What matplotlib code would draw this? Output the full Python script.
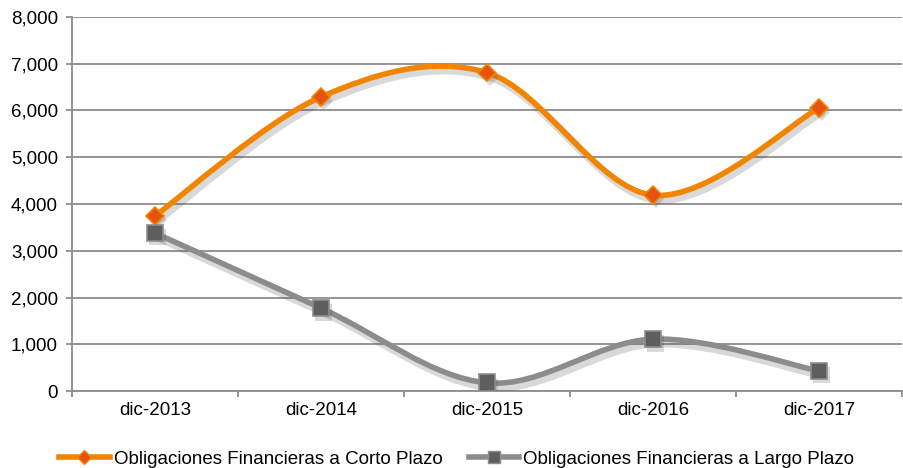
import numpy as np
import matplotlib.pyplot as plt
import matplotlib.patheffects as pe
from matplotlib.path import Path
from matplotlib.patches import PathPatch
from matplotlib.lines import Line2D
from matplotlib.ticker import FuncFormatter

plt.rcParams['font.family'] = ['Liberation Sans', 'DejaVu Sans']

categorias = ['dic-2013', 'dic-2014', 'dic-2015', 'dic-2016', 'dic-2017']
corto_plazo = [3745, 6290, 6810, 4190, 6050]
largo_plazo = [3380, 1775, 175, 1110, 430]

naranja = '#F28500'
naranja_marca = '#E8520F'
gris = '#8C8C8C'
gris_marca = '#5E5E5E'


def curva_suave(xs, ys):
    # curva tipo Excel (Catmull-Rom -> Bezier cúbica)
    pts = np.column_stack([xs, ys]).astype(float)
    n = len(pts)
    verts = [pts[0]]
    codes = [Path.MOVETO]
    for i in range(n - 1):
        p0 = pts[max(i - 1, 0)]
        p1 = pts[i]
        p2 = pts[i + 1]
        p3 = pts[min(i + 2, n - 1)]
        c1 = p1 + (p2 - p0) / 6.0
        c2 = p2 - (p3 - p1) / 6.0
        verts += [c1, c2, p2]
        codes += [Path.CURVE4] * 3
    return Path(verts, codes)


fig = plt.figure(figsize=(9.04, 4.68), dpi=100)
ax = fig.add_axes([0.0796, 0.1645, 0.918, 0.7992])

x = np.arange(len(categorias))

for ys, col, mk, mcol, ms in [(corto_plazo, naranja, 'D', naranja_marca, 9),
                              (largo_plazo, gris, 's', gris_marca, 12)]:
    patch = PathPatch(curva_suave(x, ys), facecolor='none', edgecolor=col, lw=4,
                      capstyle='round', joinstyle='round', zorder=3)
    patch.set_path_effects([pe.SimpleLineShadow(offset=(2, -3), alpha=0.2, shadow_color='#444444',
                                                linewidth=6),
                            pe.Normal()])
    ax.add_patch(patch)
    ax.plot(x, ys, linestyle='none', marker=mk, markersize=ms, markerfacecolor=mcol,
            markeredgecolor=col, markeredgewidth=1.2, zorder=4,
            path_effects=[pe.SimplePatchShadow(offset=(2, -3), alpha=0.2, shadow_rgbFace='#444444'),
                          pe.Normal()])

ax.set_xlim(-0.5, 4.5)
ax.set_ylim(0, 8000)
ax.set_yticks(np.arange(0, 8001, 1000))
ax.yaxis.set_major_formatter(FuncFormatter(lambda v, p: f'{int(v):,}'))
ax.grid(axis='y', color=gris, linewidth=1.3)
ax.set_axisbelow(True)

ax.set_xticks(np.arange(-0.5, 5, 1))
ax.set_xticklabels([])
ax.set_xticks(x, minor=True)
ax.set_xticklabels(categorias, minor=True)
ax.tick_params(axis='x', which='minor', length=0, pad=8, labelsize=13.5)
ax.tick_params(axis='x', which='major', length=4, color=gris, width=1.3)
ax.tick_params(axis='y', length=4, color=gris, width=1.3, labelsize=13.5, pad=6)

for s in ['top', 'right']:
    ax.spines[s].set_visible(False)
for s in ['left', 'bottom']:
    ax.spines[s].set_color(gris)
    ax.spines[s].set_linewidth(1.3)

handles = [
    Line2D([], [], color=naranja, lw=4, marker='D', markersize=7,
           markerfacecolor=naranja_marca, markeredgecolor=naranja),
    Line2D([], [], color=gris, lw=4, marker='s', markersize=9,
           markerfacecolor=gris_marca, markeredgecolor=gris),
]
fig.legend(handles, ['Obligaciones Financieras a Corto Plazo',
                     'Obligaciones Financieras a Largo Plazo'],
           loc='lower center', bbox_to_anchor=(0.505, -0.035), ncol=2, frameon=False,
           fontsize=13.5, handlelength=2.7, handletextpad=0.2, columnspacing=1.4)

fig.savefig('out.png', dpi=100)
